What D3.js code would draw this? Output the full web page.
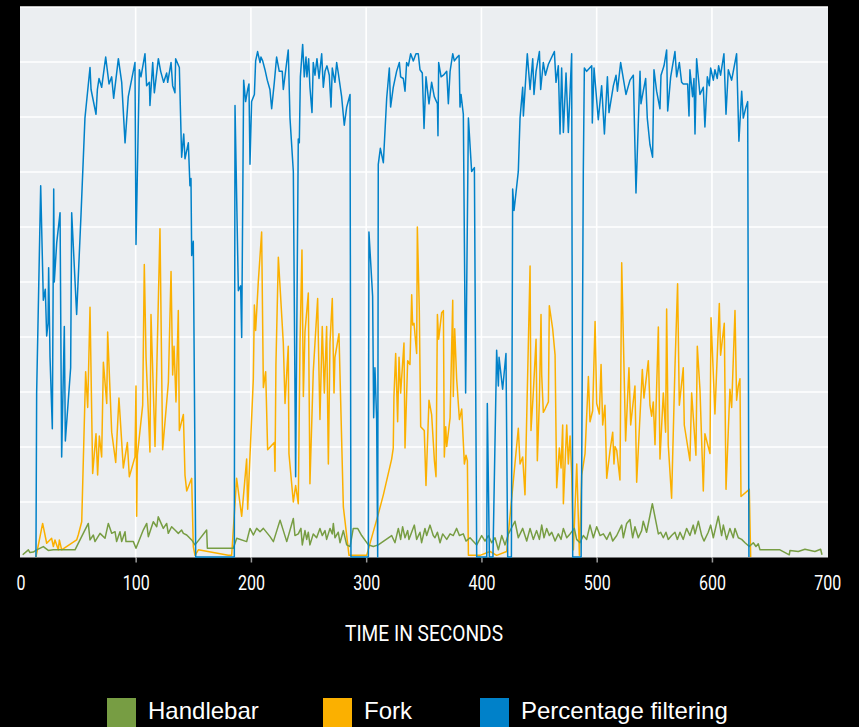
<!DOCTYPE html>
<html>
<head>
<meta charset="utf-8">
<script src="https://cdn.jsdelivr.net/npm/d3@7"></script>
<style>
  html, body { margin: 0; padding: 0; background: #000; }
  svg { display: block; }
  .tick text { font-family: "Liberation Sans Narrow", "Roboto", sans-serif; }
</style>
</head>
<body>
<div id="chart"></div>
<script>
// [time in seconds, value] pairs
const handlebar = [[2.0,0.4],[6.9,1.3],[8.3,0.8],[11.2,0.9],[14.1,1.3],[19.9,1.9],[24.2,1.2],[28.6,1.3],[47.4,1.3],[51.7,3.1],[58.9,6.1],[60.4,3.1],[63.3,4.0],[64.7,2.8],[69.1,4.3],[73.4,3.4],[76.3,6.1],[79.2,4.3],[82.1,4.6],[83.5,2.8],[86.4,4.6],[87.9,2.8],[90.8,4.6],[91.6,2.8],[98.0,2.8],[100.3,1.6],[106.6,4.9],[109.6,6.1],[111.0,3.7],[115.3,6.4],[118.3,5.5],[119.6,7.3],[124.0,5.2],[126.9,6.1],[128.3,4.3],[131.2,5.5],[134.1,4.9],[137.0,4.3],[139.9,4.9],[141.4,4.3],[144.3,4.0],[148.6,3.1],[151.5,2.2],[161.6,4.9],[162.2,1.6],[184.7,1.6],[187.7,3.4],[196.3,2.8],[199.2,5.2],[202.1,4.0],[205.0,5.2],[207.9,4.6],[210.8,5.2],[216.6,3.7],[219.5,2.8],[225.3,6.7],[231.1,2.8],[236.8,7.0],[238.2,3.9],[241.1,4.2],[243.4,5.2],[244.6,2.2],[246.9,4.8],[248.4,3.2],[249.8,4.5],[251.2,2.2],[254.1,4.2],[257.0,3.5],[259.9,5.2],[261.9,3.9],[264.3,4.8],[265.7,3.2],[268.6,5.2],[270.6,4.2],[271.5,6.1],[272.9,3.5],[275.8,4.5],[277.3,2.6],[280.2,4.8],[283.1,2.2],[286.0,1.9],[288.8,5.2],[292.6,5.2],[296.1,3.9],[301.9,2.2],[306.2,1.9],[310.5,2.2],[322.1,3.9],[325.0,2.6],[327.9,5.2],[329.9,3.2],[331.6,5.5],[333.7,3.5],[336.0,4.8],[337.1,3.2],[341.8,5.8],[343.8,3.2],[346.7,4.5],[348.1,2.6],[351.0,5.2],[352.5,3.9],[355.4,5.8],[358.2,3.9],[359.7,3.5],[361.8,4.5],[364.1,2.6],[366.4,4.2],[369.9,3.2],[372.8,4.2],[375.6,3.9],[378.5,5.2],[380.9,3.9],[384.3,4.2],[386.6,2.9],[390.1,3.5],[395.9,2.2],[400.2,3.9],[403.1,2.9],[406.0,3.9],[408.9,2.6],[411.8,3.5],[414.7,1.3],[417.6,3.9],[420.5,2.2],[423.4,4.2],[429.1,6.5],[432.0,3.5],[435.8,5.2],[439.3,2.9],[442.2,5.2],[445.0,3.2],[447.9,4.8],[450.3,3.2],[452.3,5.8],[454.3,3.5],[456.6,5.2],[458.9,3.9],[461.0,4.5],[463.9,2.9],[466.7,4.2],[469.1,3.2],[471.1,5.2],[474.0,3.5],[476.9,4.2],[480.6,5.2],[482.6,3.2],[485.5,2.6],[488.4,3.9],[491.3,3.2],[494.2,5.8],[497.1,3.5],[500.0,5.5],[502.9,3.9],[505.8,4.2],[508.7,3.2],[511.6,4.5],[513.9,2.9],[517.4,3.9],[521.7,5.8],[523.1,3.5],[526.0,6.1],[528.9,6.8],[531.2,3.5],[533.2,5.5],[536.1,3.5],[539.0,4.8],[540.4,6.5],[543.3,4.5],[548.3,9.7],[552.0,5.8],[553.5,4.2],[555.5,4.5],[557.8,3.5],[560.1,4.5],[562.1,3.2],[565.0,3.9],[567.9,4.5],[570.0,3.2],[572.3,4.5],[575.1,3.2],[578.0,5.2],[580.9,3.9],[583.8,5.8],[585.3,4.2],[588.2,6.5],[591.1,3.9],[593.1,2.9],[596.8,4.5],[598.9,5.8],[601.2,3.5],[605.5,7.4],[608.4,3.9],[609.9,5.8],[612.7,3.2],[615.6,5.2],[618.5,3.5],[620.0,5.2],[622.9,3.5],[625.8,3.2],[628.7,2.6],[632.4,1.9],[635.9,2.6],[638.2,1.9],[640.2,2.4],[641.7,1.3],[659.0,1.3],[667.1,0.4],[667.7,1.2],[674.9,1.0],[680.7,1.4],[689.3,1.0],[694.3,1.4],[695.5,0.4]];

const fork = [[13.5,0],[19.3,6.1],[22.8,2.5],[27.1,3.4],[28.6,1.9],[30.0,3.1],[32.9,1.3],[33.8,3.1],[35.8,1.3],[48.8,3.1],[50.2,4.0],[53.2,6.4],[56.6,33.7],[58.4,27.2],[60.4,45.4],[62.7,15.2],[65.6,22.4],[67.0,14.9],[68.5,22.0],[70.5,18.2],[72.0,35.4],[74.9,27.9],[75.7,40.9],[79.2,22.7],[82.7,17.2],[85.5,28.9],[89.3,16.2],[92.8,20.8],[94.5,14.6],[99.4,18.2],[100.3,31.1],[100.9,7.4],[101.5,18.5],[106.1,27.6],[107.5,53.2],[109.0,36.3],[112.4,19.1],[113.3,44.1],[116.8,20.1],[121.1,59.7],[123.4,19.5],[128.4,31.8],[130.7,51.9],[132.1,33.1],[133.3,38.3],[135.0,28.2],[137.0,44.8],[137.9,23.0],[141.4,25.9],[142.8,14.9],[144.3,12.0],[148.6,14.3],[150.0,1.9],[151.5,0.3],[154.4,1.3],[180.4,0.3],[183.3,0.3],[187.6,14.3],[192.0,7.4],[196.3,17.8],[197.2,8.7],[202.1,32.4],[203.0,45.8],[204.1,41.2],[206.4,50.0],[209.3,59.1],[210.8,30.8],[212.8,33.7],[214.5,19.5],[220.3,20.8],[220.9,15.6],[221.7,35.0],[223.8,54.5],[228.1,38.9],[229.6,27.9],[232.4,38.3],[233.0,18.8],[236.8,10.0],[238.8,13.0],[241.1,9.7],[242.6,38.9],[244.3,55.8],[245.5,29.2],[246.9,40.9],[249.8,48.0],[251.2,13.3],[254.1,33.7],[257.9,47.0],[258.8,36.3],[259.9,25.0],[261.9,41.9],[263.7,29.8],[265.7,41.9],[267.2,16.9],[268.6,38.9],[270.6,47.0],[272.1,29.8],[272.9,36.3],[276.4,40.6],[280.2,9.1],[285.1,0.3],[300.4,0.3],[310.5,7.8],[314.9,11.3],[322.1,17.8],[323.5,19.8],[324.1,29.2],[325.6,37.0],[327.3,24.6],[328.5,36.3],[329.9,29.8],[332.8,38.9],[333.7,19.8],[336.0,35.7],[338.0,35.0],[339.5,47.7],[340.3,42.2],[341.5,42.5],[343.8,37.0],[344.4,60.0],[346.1,44.8],[347.3,23.7],[350.4,23.0],[351.9,13.0],[354.5,28.5],[356.8,25.9],[359.2,17.5],[360.6,14.6],[361.8,44.1],[362.9,39.6],[365.5,44.4],[367.0,44.8],[367.8,18.2],[369.0,23.7],[369.9,20.1],[372.8,25.3],[375.1,46.7],[375.6,29.2],[376.8,41.5],[378.5,32.4],[380.9,25.0],[382.9,26.9],[385.2,16.9],[386.6,18.5],[387.8,17.5],[388.7,0.3],[398.8,0.3],[407.5,1.0],[413.2,0.3],[421.9,1.0],[432.0,23.4],[433.5,16.9],[435.8,18.2],[437.8,11.3],[442.2,52.9],[443.0,23.0],[445.0,29.8],[447.4,39.6],[448.5,17.5],[450.3,28.5],[451.7,44.1],[452.3,33.1],[453.7,26.3],[455.2,26.9],[458.1,28.2],[458.9,45.7],[461.8,41.5],[463.9,36.7],[465.3,12.6],[467.6,19.8],[469.1,16.2],[470.5,24.0],[471.1,9.7],[474.0,24.0],[475.4,16.9],[476.9,22.0],[478.3,15.2],[479.8,1.3],[482.7,16.9],[485.0,0.3],[487.0,14.9],[489.9,18.8],[492.8,32.8],[494.2,24.6],[496.5,26.6],[498.6,42.8],[500.0,27.9],[502.3,26.0],[503.8,35.0],[505.2,24.0],[507.2,27.6],[508.7,14.3],[511.6,19.4],[513.9,22.7],[515.0,16.9],[515.9,20.1],[517.4,19.4],[520.2,14.0],[521.7,53.5],[525.1,21.1],[528.0,34.4],[529.5,24.0],[533.2,31.1],[534.7,13.6],[539.6,34.1],[541.0,28.9],[544.8,35.7],[546.2,27.6],[547.7,25.6],[549.1,28.2],[550.6,20.4],[553.5,41.8],[554.9,17.8],[557.8,29.8],[559.8,22.7],[560.7,45.1],[562.1,20.4],[565.0,10.7],[567.9,34.4],[570.2,49.7],[571.7,27.6],[575.1,34.4],[576.0,24.0],[580.9,17.5],[582.4,29.8],[586.1,18.5],[587.3,38.3],[589.6,30.5],[592.5,12.0],[593.9,22.4],[598.3,18.8],[599.2,43.5],[602.6,26.0],[606.4,46.1],[607.5,36.7],[610.7,42.5],[612.2,12.3],[615.6,30.5],[617.1,27.2],[620.0,44.8],[621.4,28.5],[622.9,31.1],[624.3,32.4],[625.2,11.0],[632.4,12.3],[633.6,0]];

const filtering = [[13.5,0],[14.1,29.8],[17.6,67.5],[19.9,46.7],[21.6,48.7],[22.8,40.2],[24.0,42.5],[24.5,52.6],[25.7,36.3],[27.7,23.3],[28.9,66.9],[29.4,50.0],[31.5,57.1],[34.4,62.6],[35.8,18.2],[38.1,41.9],[39.0,21.1],[43.6,34.4],[44.5,62.6],[48.8,44.1],[52.6,62.3],[56.0,79.8],[60.4,89.0],[61.3,85.0],[65.6,80.5],[66.8,85.0],[68.2,87.0],[70.5,85.4],[74.0,90.9],[76.9,86.0],[79.2,87.3],[80.9,83.4],[85.0,90.6],[87.9,86.3],[90.8,75.3],[93.6,83.7],[99.4,89.9],[100.3,56.8],[103.2,88.6],[104.6,87.3],[108.1,91.5],[109.5,85.7],[111.9,86.3],[112.4,82.1],[114.8,89.9],[116.2,84.4],[119.7,90.6],[121.7,88.3],[124.3,86.3],[126.9,88.0],[127.8,86.3],[130.7,89.9],[132.1,85.7],[134.1,84.4],[134.7,90.6],[137.9,89.0],[139.9,72.7],[141.7,76.9],[142.8,72.4],[145.7,75.3],[147.1,67.5],[148.0,68.8],[148.6,54.8],[150.0,57.4],[152.1,0],[185.6,0],[186.2,82.1],[189.1,48.4],[191.1,49.3],[192.0,39.9],[193.7,86.7],[195.4,82.8],[197.2,85.0],[198.3,86.0],[199.2,71.4],[200.6,82.8],[203.0,84.1],[204.1,90.2],[205.8,91.9],[207.9,89.9],[208.7,90.9],[210.2,90.2],[212.2,88.6],[214.2,86.7],[216.5,85.0],[218.0,81.5],[220.3,86.3],[222.3,90.9],[224.6,88.3],[227.2,88.3],[228.1,85.0],[231.0,89.9],[232.4,92.2],[233.9,79.8],[236.8,70.1],[238.8,14.6],[241.1,76.0],[242.0,75.3],[242.9,87.3],[244.9,93.2],[246.3,87.3],[247.8,90.9],[248.6,87.3],[250.1,90.6],[251.2,85.4],[253.0,80.8],[254.1,89.9],[255.6,87.6],[257.3,90.6],[259.1,87.0],[261.4,91.5],[262.8,85.4],[264.3,88.3],[266.0,89.3],[268.0,87.6],[269.5,81.8],[270.6,88.9],[272.9,86.3],[274.4,89.9],[275.8,88.0],[278.7,83.7],[281.0,78.5],[283.1,81.8],[286.0,84.1],[286.8,0],[301.9,0],[302.4,59.1],[305.6,47.4],[306.5,25.3],[307.6,34.4],[309.1,25.0],[310.0,0],[310.5,71.4],[312.3,74.3],[314.9,71.7],[317.8,83.4],[320.1,88.9],[321.2,81.8],[323.5,85.4],[326.4,88.3],[328.8,89.9],[329.9,87.3],[332.2,87.0],[333.7,84.7],[335.1,89.9],[336.6,89.3],[338.6,91.5],[340.9,90.2],[343.2,91.5],[345.2,91.5],[346.7,88.6],[348.7,88.0],[350.2,77.9],[351.9,87.3],[354.5,82.4],[356.8,86.3],[359.1,83.7],[361.8,82.4],[362.3,76.6],[362.9,89.9],[365.0,87.3],[367.0,87.6],[369.9,88.3],[371.3,82.4],[372.8,88.3],[375.1,91.5],[376.5,90.2],[379.1,90.9],[380.6,91.2],[381.4,81.8],[382.3,84.1],[384.3,80.5],[386.3,29.8],[388.7,79.8],[391.5,70.1],[393.9,70.8],[395.9,0],[404.6,0],[405.1,27.9],[406.9,0],[410.0,0],[413.2,37.6],[414.7,31.1],[415.3,36.3],[418.4,30.5],[421.3,37.0],[422.8,0],[426.0,0],[427.1,66.9],[428.3,63.0],[432.0,70.1],[433.5,79.8],[435.8,85.4],[436.4,80.2],[439.8,91.5],[442.2,85.0],[444.5,90.6],[445.6,84.1],[447.4,88.3],[450.3,91.9],[451.4,85.0],[453.7,89.9],[455.5,87.6],[458.1,89.6],[463.3,91.9],[464.7,86.3],[466.7,89.3],[468.2,76.9],[469.6,88.9],[471.1,77.2],[473.4,88.0],[475.4,77.2],[478.3,91.5],[479.2,0],[486.5,0],[487.0,15.9],[488.4,70.1],[489.3,88.9],[491.3,88.3],[495.7,89.3],[496.2,78.9],[497.7,88.9],[501.4,79.5],[504.3,85.7],[506.7,76.9],[509.3,87.3],[510.7,80.8],[514.5,85.7],[516.8,87.6],[518.0,84.7],[520.8,89.9],[525.4,84.1],[528.9,86.7],[531.8,87.6],[534.1,66.2],[537.6,88.3],[538.4,82.4],[540.4,84.7],[542.5,87.0],[543.9,79.8],[546.2,75.0],[548.5,72.7],[549.7,88.6],[552.0,84.7],[554.9,81.5],[555.8,87.6],[558.4,89.3],[560.7,92.2],[561.6,81.1],[564.2,87.3],[567.9,91.9],[569.4,87.3],[571.7,89.9],[573.7,86.3],[575.1,86.0],[578.9,86.0],[580.1,80.2],[580.9,88.6],[583.2,83.7],[584.4,87.0],[585.3,76.9],[586.7,90.6],[589.6,84.1],[592.5,85.4],[593.9,78.2],[596.0,87.3],[597.7,85.7],[598.9,88.9],[601.2,86.7],[602.6,88.6],[604.6,87.0],[605.8,89.3],[607.5,87.6],[610.4,91.5],[612.2,80.5],[614.2,88.6],[617.1,86.7],[621.4,91.5],[623.4,75.6],[625.8,84.7],[627.2,79.8],[629.5,81.8],[631.0,82.8],[632.1,0]];

const xTicks = [0, 100, 200, 300, 400, 500, 600, 700];
const yGrid = [10, 20, 30, 40, 50, 60, 70, 80, 90, 100];
const seriesNames = ["Handlebar", "Fork", "Percentage filtering"];
const seriesColors = ["#779d43", "#fbb000", "#0081c9"];

const width = 859;
const height = 727;
const plot = {left: 20, right: 828, top: 7, bottom: 557.5};

const x = d3.scaleLinear()
  .domain([0, 700])
  .range([20.4, 827.2]);

const y = d3.scaleLinear()
  .domain([0, 100])
  .range([557, 7]);

const svg = d3.select("#chart")
  .append("svg")
  .attr("width", width)
  .attr("height", height);

svg.append("rect")
  .attr("width", width)
  .attr("height", height)
  .attr("fill", "#000");

svg.append("rect")
  .attr("x", plot.left)
  .attr("y", plot.top)
  .attr("width", plot.right - plot.left)
  .attr("height", plot.bottom - plot.top)
  .attr("fill", "#ebeef1");

// grid
svg.append("g")
  .selectAll("line")
  .data(yGrid)
  .enter()
  .append("line")
  .attr("x1", plot.left)
  .attr("x2", plot.right)
  .attr("y1", (d) => y(d))
  .attr("y2", (d) => y(d))
  .attr("stroke", "#fff")
  .attr("stroke-width", 1.6);

svg.append("g")
  .selectAll("line")
  .data(xTicks.slice(1, -1))
  .enter()
  .append("line")
  .attr("x1", (d) => x(d))
  .attr("x2", (d) => x(d))
  .attr("y1", plot.top)
  .attr("y2", plot.bottom)
  .attr("stroke", "#fff")
  .attr("stroke-width", 1.6);

// x axis
const xAxis = svg.append("g")
  .attr("transform", `translate(0, ${plot.bottom})`)
  .call(d3.axisBottom(x).tickValues(xTicks).tickSize(5).tickPadding(13));

xAxis.select(".domain").remove();
xAxis.selectAll(".tick line")
  .attr("stroke", "#9a9a9a")
  .attr("stroke-width", 1.5)
  .attr("opacity", (d) => (d === 0 || d === 700) ? 0 : 1);
// no condensed font installed: squeeze the labels a little
xAxis.selectAll(".tick text")
  .attr("fill", "#fff")
  .attr("transform", "scale(0.8, 1)")
  .style("font-family", "Roboto, sans-serif")
  .style("font-size", "20px");

svg.append("text")
  .text("TIME IN SECONDS")
  .attr("x", (plot.left + plot.right) / 2)
  .attr("y", 641)
  .attr("text-anchor", "middle")
  .attr("textLength", 158)
  .attr("lengthAdjust", "spacingAndGlyphs")
  .attr("fill", "#fff")
  .style("font-family", "Roboto, sans-serif")
  .style("font-size", "22px");

// series
const line = d3.line()
  .x((d) => x(d[0]))
  .y((d) => y(d[1]));

const drawOrder = [[fork, 1], [handlebar, 0], [filtering, 2]];

svg.append("g")
  .selectAll("path")
  .data(drawOrder)
  .enter()
  .append("path")
  .attr("d", (d) => line(d[0]))
  .attr("fill", "none")
  .attr("stroke", (d) => seriesColors[d[1]])
  .attr("stroke-width", 1.5)
  .attr("stroke-linejoin", "round");

// legend
const legendX = [107, 323, 480];

const legend = svg.append("g")
  .selectAll("g")
  .data(seriesNames)
  .enter()
  .append("g")
  .attr("transform", (d, i) => `translate(${legendX[i]}, 698)`);

legend.append("rect")
  .attr("width", 29)
  .attr("height", 30)
  .attr("fill", (d, i) => seriesColors[i]);

legend.append("text")
  .text((d) => d)
  .attr("x", 41)
  .attr("y", 21.3)
  .attr("fill", "#fff")
  .style("font-family", "'Liberation Sans', Arial, sans-serif")
  .style("font-size", "24px");
</script>
</body>
</html>
